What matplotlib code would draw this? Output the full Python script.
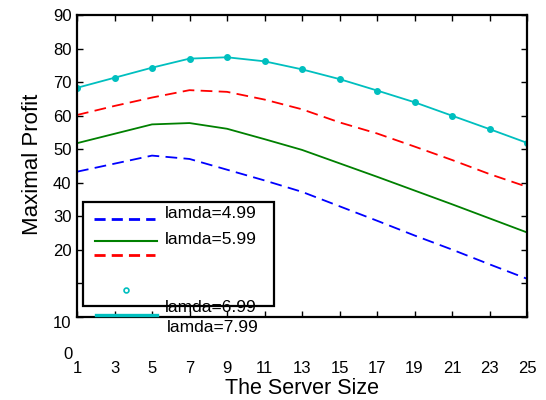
import matplotlib
matplotlib.use("Agg")
import matplotlib.pyplot as plt
from matplotlib.lines import Line2D
from matplotlib.patches import Rectangle
import matplotlib.transforms as mtransforms

plt.rcParams['font.family'] = ['Liberation Sans', 'DejaVu Sans']

server_size = [1, 3, 5, 7, 9, 11, 13, 15, 17, 19, 21, 23, 25]
profit_499 = [43.3, 45.7, 48.1, 47.1, 43.9, 40.7, 37.3, 33.0, 28.7, 24.3, 20.1, 15.7, 11.4]
profit_599 = [51.8, 54.6, 57.4, 57.8, 56.1, 53.0, 49.8, 45.8, 41.8, 37.7, 33.6, 29.4, 25.2]
profit_699 = [60.2, 62.9, 65.4, 67.6, 67.1, 64.8, 61.9, 58.0, 54.7, 50.8, 46.8, 42.6, 38.8]
profit_799 = [68.3, 71.3, 74.3, 77.0, 77.4, 76.2, 73.8, 70.9, 67.5, 64.0, 60.0, 56.0, 51.9]
labels = ['lamda=4.99', 'lamda=5.99', 'lamda=6.99', 'lamda=7.99']
y_ticks = [0, 10, 20, 30, 40, 50, 60, 70, 80, 90]
x_ticks = [1, 3, 5, 7, 9, 11, 13, 15, 17, 19, 21, 23, 25]

W, H = 546, 400
fig = plt.figure(figsize=(W / 100, H / 100), dpi=100)

def fx(px):
    return px / W

def fy(py):
    return 1 - py / H

L, R, T, B = 77, 527, 15, 317
ax = fig.add_axes([fx(L), fy(B), fx(R) - fx(L), fy(T) - fy(B)])

blue = '#0000FF'
green = '#008000'
red = '#FF0000'
cyan = '#00BFBF'

ax.plot(server_size, profit_499, color=blue, lw=1.3, linestyle=(0, (6.5, 3.5)))
ax.plot(server_size, profit_599, color=green, lw=1.3)
ax.plot(server_size, profit_699, color=red, lw=1.3, linestyle=(0, (6.5, 3.5)))
ax.plot(server_size, profit_799, color=cyan, lw=1.3, marker='o', markersize=4)

ax.set_xlim(1, 25)
ax.set_ylim(0, 90)
ax.set_xticks(x_ticks)
ax.set_xticklabels([str(v) for v in x_ticks], fontsize=12)
ax.set_yticks(y_ticks)
ax.set_yticklabels(['' if v < 20 else str(v) for v in y_ticks], fontsize=12)
ax.tick_params(axis='both', direction='in', length=4, width=1.0,
               top=True, right=True)
ax.tick_params(axis='x', pad=32)
ax.tick_params(axis='y', pad=4)
for s in ax.spines.values():
    s.set_linewidth(1.6)

# displaced low y tick labels (as in the reference)
trans = mtransforms.blended_transform_factory(fig.transFigure, ax.transData)
ax.text(fx(71), -1.8, '10', transform=trans, ha='right', va='center', fontsize=12, clip_on=False)
ax.text(fx(73), -11.3, '0', transform=trans, ha='right', va='center', fontsize=12, clip_on=False)

fig.text(fx(302), fy(389), 'The Server Size', ha='center', va='center', fontsize=15.5)
fig.text(fx(33), fy(164), 'Maximal Profit', ha='center', va='center', rotation=90, fontsize=16)

# broken legend, reproduced manually
fig.patches.append(Rectangle((fx(83), fy(306)), fx(274) - fx(83), fy(202) - fy(306),
                             transform=fig.transFigure, fill=False, edgecolor='black',
                             lw=1.6, zorder=5))
fig.lines.append(Line2D([fx(94), fx(155)], [fy(219.5), fy(219.5)], transform=fig.transFigure,
                        color=blue, lw=2, linestyle=(0, (4, 2.2))))
fig.lines.append(Line2D([fx(95), fx(157)], [fy(241), fy(241)], transform=fig.transFigure,
                        color=green, lw=1.5))
fig.lines.append(Line2D([fx(94), fx(155)], [fy(255), fy(255)], transform=fig.transFigure,
                        color=red, lw=2, linestyle=(0, (4, 2.2))))
fig.lines.append(Line2D([fx(126)], [fy(290)], transform=fig.transFigure, color=cyan,
                        marker='o', markersize=3.5, markerfacecolor='white',
                        markeredgewidth=1.2, linestyle='none'))
fig.lines.append(Line2D([fx(96), fx(157)], [fy(315), fy(315)], transform=fig.transFigure,
                        color=cyan, lw=2.4, zorder=6))
fig.text(fx(165), fy(213), labels[0], ha='left', va='center', fontsize=12.5)
fig.text(fx(165), fy(239), labels[1], ha='left', va='center', fontsize=12.5)
fig.text(fx(165), fy(307), labels[2], ha='left', va='center', fontsize=12.5)
fig.text(fx(167), fy(327), labels[3], ha='left', va='center', fontsize=12.5)

fig.savefig('out.png', dpi=100)
